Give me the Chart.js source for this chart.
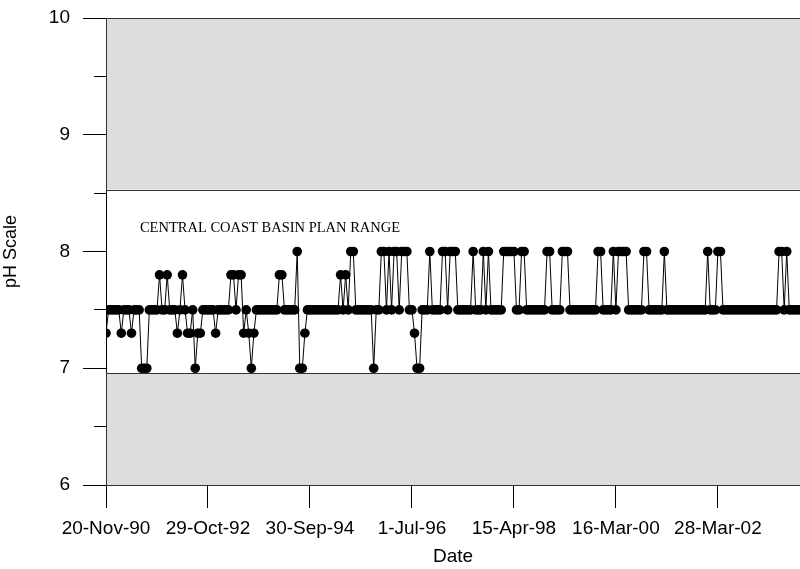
<!DOCTYPE html>
<html>
<head>
  <title>pH Scale</title>
  <script src="https://cdn.jsdelivr.net/npm/chart.js"></script>
  <style>
    html, body { margin: 0; padding: 0; background: #fff; }
    #wrap { width: 800px; height: 569px; }
  </style>
</head>
<body>
  <div id="wrap"><canvas id="phChart" width="800" height="569"></canvas></div>

  <script>
    // pH samples in order (x axis is sample number, labelled with dates)
    const phValues = [
      7.3, 7.5, 7.5, 7.5, 7.5, 7.5, 7.3, 7.5, 7.5, 7.5,
      7.3, 7.5, 7.5, 7.5, 7.0, 7.0, 7.0, 7.5, 7.5, 7.5,
      7.5, 7.8, 7.5, 7.5, 7.8, 7.5, 7.5, 7.5, 7.3, 7.5,
      7.8, 7.5, 7.3, 7.3, 7.5, 7.0, 7.3, 7.3, 7.5, 7.5,
      7.5, 7.5, 7.5, 7.3, 7.5, 7.5, 7.5, 7.5, 7.5, 7.8,
      7.8, 7.5, 7.8, 7.8, 7.3, 7.5, 7.3, 7.0, 7.3, 7.5,
      7.5, 7.5, 7.5, 7.5, 7.5, 7.5, 7.5, 7.5, 7.8, 7.8,
      7.5, 7.5, 7.5, 7.5, 7.5, 8.0, 7.0, 7.0, 7.3, 7.5,
      7.5, 7.5, 7.5, 7.5, 7.5, 7.5, 7.5, 7.5, 7.5, 7.5,
      7.5, 7.5, 7.8, 7.5, 7.8, 7.5, 8.0, 8.0, 7.5, 7.5,
      7.5, 7.5, 7.5, 7.5, 7.5, 7.0, 7.5, 7.5, 8.0, 8.0,
      7.5, 8.0, 7.5, 8.0, 8.0, 7.5, 8.0, 8.0, 8.0, 7.5,
      7.5, 7.3, 7.0, 7.0, 7.5, 7.5, 7.5, 8.0, 7.5, 7.5,
      7.5, 7.5, 8.0, 8.0, 7.5, 8.0, 8.0, 8.0, 7.5, 7.5,
      7.5, 7.5, 7.5, 7.5, 8.0, 7.5, 7.5, 7.5, 8.0, 7.5,
      8.0, 7.5, 7.5, 7.5, 7.5, 7.5, 8.0, 8.0, 8.0, 8.0,
      8.0, 7.5, 7.5, 8.0, 8.0, 7.5, 7.5, 7.5, 7.5, 7.5,
      7.5, 7.5, 7.5, 8.0, 8.0, 7.5, 7.5, 7.5, 7.5, 8.0,
      8.0, 8.0, 7.5, 7.5, 7.5, 7.5, 7.5, 7.5, 7.5, 7.5,
      7.5, 7.5, 7.5, 8.0, 8.0, 7.5, 7.5, 7.5, 7.5, 8.0,
      7.5, 8.0, 8.0, 8.0, 8.0, 7.5, 7.5, 7.5, 7.5, 7.5,
      7.5, 8.0, 8.0, 7.5, 7.5, 7.5, 7.5, 7.5, 7.5, 8.0,
      7.5, 7.5, 7.5, 7.5, 7.5, 7.5, 7.5, 7.5, 7.5, 7.5,
      7.5, 7.5, 7.5, 7.5, 7.5, 7.5, 8.0, 7.5, 7.5, 7.5,
      8.0, 8.0, 7.5, 7.5, 7.5, 7.5, 7.5, 7.5, 7.5, 7.5,
      7.5, 7.5, 7.5, 7.5, 7.5, 7.5, 7.5, 7.5, 7.5, 7.5,
      7.5, 7.5, 7.5, 7.5, 8.0, 8.0, 7.5, 8.0, 7.5, 7.5,
      7.5, 7.5, 7.5, 7.5
    ];

    const tickIdx = [0, 40, 80, 120, 160, 200, 240];
    const tickLabels = ["20-Nov-90", "29-Oct-92", "30-Sep-94", "1-Jul-96",
                        "15-Apr-98", "16-Mar-00", "28-Mar-02"];

    // shaded areas outside the basin plan range
    const rangeLow = 6.96;
    const rangeHigh = 8.53;
    const rangeLabel = "CENTRAL COAST BASIN PLAN RANGE";

    const yMin = 6, yMax = 10;
    const xMax = 272.2;

    const points = phValues.map((v, i) => ({ x: i, y: v }));

    // grey bands + range label
    const bandsPlugin = {
      id: 'bands',
      beforeDatasetsDraw(chart) {
        const { ctx, chartArea: a, scales: { x, y } } = chart;
        const top = y.getPixelForValue(yMax);
        const hi = y.getPixelForValue(rangeHigh);
        const lo = y.getPixelForValue(rangeLow);
        const bot = y.getPixelForValue(yMin);
        const w = a.right - a.left + 10;
        ctx.save();
        ctx.fillStyle = '#dddddd';
        ctx.strokeStyle = '#333333';
        ctx.lineWidth = 1;
        ctx.fillRect(a.left, top, w, hi - top);
        ctx.strokeRect(a.left + 0.5, Math.round(top) + 0.5, w, Math.round(hi - top));
        ctx.fillRect(a.left, lo, w, bot - lo);
        ctx.strokeRect(a.left + 0.5, Math.round(lo) + 0.5, w, Math.round(bot - lo));

        ctx.fillStyle = '#000';
        ctx.font = '14.5px "Liberation Serif", "Times New Roman", serif';
        ctx.textBaseline = 'middle';
        ctx.fillText(rangeLabel, x.getPixelForValue(13.3), y.getPixelForValue(8.2));
        ctx.restore();
      }
    };

    const font = { family: '"Liberation Sans", Arial, sans-serif', size: 19 };

    new Chart(document.getElementById('phChart').getContext('2d'), {
      type: 'line',
      data: {
        datasets: [{
          data: points,
          borderColor: '#000',
          borderWidth: 1,
          pointRadius: 4.8,
          pointBackgroundColor: '#000',
          pointBorderWidth: 0,
          tension: 0,
          clip: { left: 0, top: 0, right: 10, bottom: 0 }
        }]
      },
      options: {
        responsive: false,
        animation: false,
        layout: { autoPadding: false, padding: { top: 18, right: 0, left: 0, bottom: 0 } },
        plugins: {
          legend: { display: false },
          tooltip: { enabled: false }
        },
        scales: {
          x: {
            type: 'linear',
            min: 0,
            max: xMax,
            afterBuildTicks: s => { s.ticks = tickIdx.map(v => ({ value: v })); },
            afterFit: s => { s.height = 84; s.paddingLeft = 0; s.paddingRight = 0; },
            border: { display: true, color: '#000', width: 1 },
            grid: { drawOnChartArea: false, drawTicks: true, tickLength: 23, tickColor: '#000' },
            ticks: {
              autoSkip: false, maxRotation: 0, padding: 9, color: '#000', font: font,
              callback: (v, i) => tickLabels[i]
            },
            title: { display: true, text: 'Date', color: '#000', font: font, padding: { top: 0, bottom: 1 } }
          },
          y: {
            min: yMin,
            max: yMax,
            afterFit: s => { s.width = 106; s.paddingTop = 0; s.paddingBottom = 0; },
            border: { display: true, color: '#000', width: 1 },
            grid: {
              drawOnChartArea: false, drawTicks: true, tickLength: 23, tickColor: '#000',
              tickBorderDash: c => Number.isInteger(c.tick.value) ? [] : [0, 11, 12, 0]
            },
            ticks: {
              stepSize: 0.5, padding: 13, color: '#000', font: font,
              callback: v => Number.isInteger(v) ? v : ''
            },
            title: { display: true, text: 'pH Scale', color: '#000', font: { family: font.family, size: 18 }, padding: 0 }
          }
        }
      },
      plugins: [bandsPlugin]
    });
  </script>
</body>
</html>
